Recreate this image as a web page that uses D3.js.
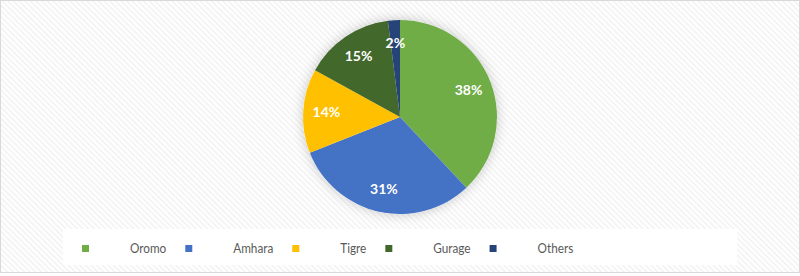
<!DOCTYPE html>
<html>
<head>
<meta charset="utf-8">
<script src="https://cdn.jsdelivr.net/npm/d3@7"></script>
<style>
  html, body { margin: 0; padding: 0; background: #fff; }
  svg { display: block; }
</style>
</head>
<body>
<div id="wrapper"></div>
<script>
// chart data
const categories = ['Oromo', 'Amhara', 'Tigre', 'Gurage', 'Others']
const shares = [38, 31, 14, 15, 2]
const colors = ['#70ad47', '#4472c4', '#ffc000', '#43682b', '#264478']

const dimensions = { width: 800, height: 276 }
const center = { x: 400, y: 117 }
const radius = 97

const dataset = categories.map((c, i) => ({ name: c, value: shares[i] }))

const wrapper = d3
  .select('#wrapper')
  .append('svg')
  .attr('width', dimensions.width)
  .attr('height', dimensions.height)

const defs = wrapper.append('defs')

// subtle diagonal background pattern
const pattern = defs
  .append('pattern')
  .attr('id', 'bgHatch')
  .attr('width', 4)
  .attr('height', 4)
  .attr('patternUnits', 'userSpaceOnUse')
  .attr('patternTransform', 'rotate(-45)')
pattern.append('rect').attr('width', 4).attr('height', 4).attr('fill', '#ffffff')
pattern.append('rect').attr('width', 1.6).attr('height', 4).attr('fill', '#f2f2f2')

// soft glow behind the pie
const shadow = defs
  .append('filter')
  .attr('id', 'pieShadow')
  .attr('x', '-30%')
  .attr('y', '-30%')
  .attr('width', '160%')
  .attr('height', '160%')
shadow
  .append('feDropShadow')
  .attr('dx', 0)
  .attr('dy', 0)
  .attr('stdDeviation', 6)
  .attr('flood-color', '#000')
  .attr('flood-opacity', 0.22)

wrapper
  .append('rect')
  .attr('x', 0.5)
  .attr('y', 0.5)
  .attr('width', dimensions.width - 1)
  .attr('height', dimensions.height - 4)
  .attr('fill', 'url(#bgHatch)')
  .attr('stroke', '#d9d9d9')

// white box behind the legend
wrapper
  .append('rect')
  .attr('x', 63)
  .attr('y', 229)
  .attr('width', 674)
  .attr('height', 36)
  .attr('fill', '#ffffff')

const pie = d3.pie().sort(null).value((d) => d.value)
const arcs = pie(dataset)

const arc = d3.arc().innerRadius(0).outerRadius(radius)
const labelArc = d3.arc().innerRadius(radius * 0.76).outerRadius(radius * 0.76)

const bounds = wrapper
  .append('g')
  .attr('transform', `translate(${center.x}, ${center.y})`)

bounds
  .append('circle')
  .attr('r', radius)
  .attr('fill', '#fff')
  .attr('filter', 'url(#pieShadow)')

bounds
  .selectAll('.slice')
  .data(arcs)
  .enter()
  .append('path')
  .attr('class', 'slice')
  .attr('d', arc)
  .attr('fill', (d, i) => colors[i])

bounds
  .selectAll('.label')
  .data(arcs)
  .enter()
  .append('text')
  .attr('class', 'label')
  .attr('transform', (d) => `translate(${labelArc.centroid(d)})`)
  .attr('text-anchor', 'middle')
  .attr('dy', '0.35em')
  .attr('font-family', 'Lato, "Open Sans", sans-serif')
  .attr('font-weight', 'bold')
  .attr('font-size', 14)
  .attr('fill', '#ffffff')
  .text((d) => d.data.value + '%')

// legend: square, gap, label, gap, next square
// labels are squeezed a little to get close to the narrow office font
const squeeze = 0.84
const legend = wrapper.append('g').attr('class', 'legend')
let cursor = 82
categories.forEach((c, i) => {
  legend
    .append('rect')
    .attr('x', cursor)
    .attr('y', 245)
    .attr('width', 7)
    .attr('height', 7)
    .attr('fill', colors[i])
  const t = legend
    .append('text')
    .attr('transform', `translate(${cursor + 48}, 248) scale(${squeeze}, 1)`)
    .attr('dy', '0.35em')
    .attr('font-family', 'Lato, sans-serif')
    .attr('font-size', 14)
    .attr('fill', '#595959')
    .text(c)
  cursor += 48 + t.node().getComputedTextLength() * squeeze + 19
})
</script>
</body>
</html>
